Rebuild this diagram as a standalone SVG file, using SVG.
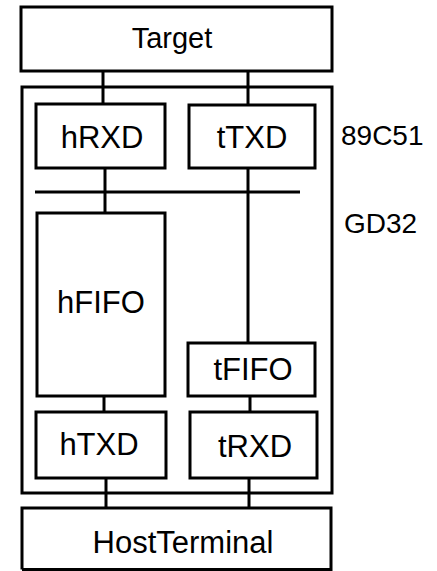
<svg xmlns="http://www.w3.org/2000/svg" width="437" height="571" viewBox="0 0 437 571">
<style>
.b{fill:none;stroke:#000;stroke-width:3}
.c{fill:none;stroke:#000;stroke-width:3}
.t{font-family:"Liberation Sans",Arial,sans-serif;font-size:31px;fill:#000;text-anchor:middle}
.s{font-family:"Liberation Sans",Arial,sans-serif;font-size:28px;fill:#000}
</style>
<rect width="437" height="571" fill="#fff"/>
<g id="container-89C51">
<rect class="b" x="22" y="87" width="310" height="406"/>
<text class="s" x="341" y="145">89C51</text>
</g>
<g id="container-GD32">
<text class="s" x="344" y="233">GD32</text>
</g>
<g id="Target">
<rect class="b" x="21" y="7" width="311" height="64"/>
<text class="t" x="172" y="48" style="font-size:29px">Target</text>
</g>
<g id="hRXD">
<rect class="b" x="36" y="104" width="129" height="64"/>
<text class="t" x="102" y="148">hRXD</text>
</g>
<g id="tTXD">
<rect class="b" x="189" y="105" width="126" height="63"/>
<text class="t" x="252" y="148">tTXD</text>
</g>
<g id="hFIFO">
<rect class="b" x="37" y="213" width="128" height="183"/>
<text class="t" x="101" y="313">hFIFO</text>
</g>
<g id="tFIFO">
<rect class="b" x="188" y="343" width="127" height="53"/>
<text class="t" x="253" y="380">tFIFO</text>
</g>
<g id="hTXD">
<rect class="b" x="36" y="412" width="130" height="66"/>
<text class="t" x="99" y="455">hTXD</text>
</g>
<g id="tRXD">
<rect class="b" x="190" y="412" width="127" height="66"/>
<text class="t" x="255" y="457">tRXD</text>
</g>
<g id="HostTerminal">
<path class="b" d="M22,569.5 V508 H331 V569.5 H22"/>
<text class="t" x="183" y="553">HostTerminal</text>
</g>
<g id="connectors">
<line class="c" x1="248" y1="71" x2="248" y2="105"/>
<line class="c" x1="103" y1="71" x2="103" y2="104"/>
<line class="c" x1="105" y1="168" x2="105" y2="213"/>
<line class="c" x1="248" y1="168" x2="248" y2="343"/>
<line class="c" x1="35" y1="192" x2="300" y2="192"/>
<line class="c" x1="104" y1="396" x2="104" y2="412"/>
<line class="c" x1="250" y1="396" x2="250" y2="412"/>
<line class="c" x1="106" y1="478" x2="106" y2="508"/>
<line class="c" x1="249" y1="478" x2="249" y2="508"/>
</g>
</svg>
